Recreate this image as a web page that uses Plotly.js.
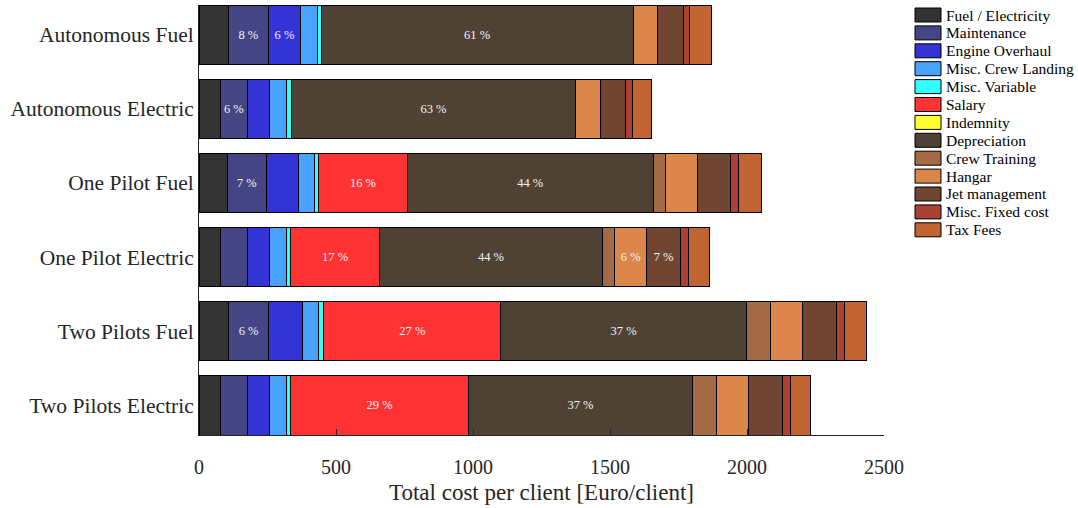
<!DOCTYPE html>
<html>
<head>
<meta charset="utf-8">
<script src="https://cdn.plot.ly/plotly-3.0.1.min.js"></script>
<style>html,body{margin:0;padding:0;background:#fff;}#chart{width:1078px;height:508px;}</style>
</head>
<body>
<div id="chart"></div>
<script>
const categories = ["Autonomous Fuel", "Autonomous Electric", "One Pilot Fuel", "One Pilot Electric", "Two Pilots Fuel", "Two Pilots Electric"];
const costNames = ["Fuel / Electricity", "Maintenance", "Engine Overhaul", "Misc. Crew Landing", "Misc. Variable", "Salary", "Indemnity", "Depreciation", "Crew Training", "Hangar", "Jet management", "Misc. Fixed cost", "Tax Fees"];
const costColors = ["#333333", "#454585", "#3333d6", "#47a3ff", "#33ffff", "#ff3333", "#ffff33", "#4f4235", "#a36b45", "#db874b", "#704633", "#ab4132", "#c26332"];

// values per category (order of categories)
const fuelElectricity = [107, 77, 103, 77, 107, 77];
const maintenance     = [146, 100, 143, 99, 148, 99];
const engineOverhaul  = [118, 81, 116, 81, 122, 82];
const miscCrewLanding = [60, 63, 59, 63, 60, 62];
const miscVariable    = [15, 15, 16, 15, 18, 15];
const salary          = [0, 0, 323, 323, 647, 648];
const indemnity       = [0, 0, 0, 0, 0, 0];
const depreciation    = [1138, 1039, 898, 815, 895, 818];
const crewTraining    = [0, 0, 43, 44, 89, 89];
const hangar          = [90, 90, 117, 117, 118, 117];
const jetManagement   = [93, 92, 121, 123, 121, 121];
const miscFixedCost   = [23, 24, 31, 30, 30, 31];
const taxFees         = [79, 70, 82, 75, 82, 74];

const tickVals = [0, 500, 1000, 1500, 2000, 2500];

const series = [fuelElectricity, maintenance, engineOverhaul, miscCrewLanding, miscVariable, salary, indemnity, depreciation, crewTraining, hangar, jetManagement, miscFixedCost, taxFees];

const totals = categories.map((c, i) => series.reduce((s, arr) => s + arr[i], 0));

const serif = "Liberation Serif, DejaVu Serif, serif";

const traces = series.map((vals, k) => ({
  type: "bar",
  orientation: "h",
  name: costNames[k],
  y: categories,
  x: vals,
  marker: {color: costColors[k], line: {color: "#000000", width: 1}},
  text: vals.map((v, i) => (v / totals[i] >= 0.06 ? Math.round(100 * v / totals[i]) + " %" : "")),
  textposition: "inside",
  insidetextanchor: "middle",
  textangle: 0,
  constraintext: "none",
  insidetextfont: {family: serif, size: 12.5, color: "#f2f2f2"},
  hoverinfo: "x+name",
  showlegend: false
}));

// custom legend (wide swatches like the reference), in paper coordinates
const M = {l: 199, r: 194, t: 5, b: 73};
const plotW = 1078 - M.l - M.r, plotH = 508 - M.t - M.b;
const px2x = p => (p - M.l) / plotW;
const py2y = p => (508 - M.b - p) / plotH;
const legTop = 15, legStep = 17.9;
const shapes = [], annotations = [];
costNames.forEach((nm, k) => {
  const cy = legTop + k * legStep;
  shapes.push({
    type: "rect", xref: "paper", yref: "paper",
    x0: px2x(915), x1: px2x(941), y0: py2y(cy + 7), y1: py2y(cy - 7),
    fillcolor: costColors[k], line: {color: "#000000", width: 1}
  });
  annotations.push({
    xref: "paper", yref: "paper", x: px2x(944), y: py2y(cy),
    xanchor: "left", yanchor: "middle", showarrow: false,
    text: nm, font: {family: serif, size: 15.5, color: "#000000"}
  });
});

const layout = {
  width: 1078,
  height: 508,
  margin: M,
  barmode: "stack",
  bargap: 0.2,
  paper_bgcolor: "#ffffff",
  plot_bgcolor: "#ffffff",
  showlegend: false,
  shapes: shapes,
  annotations: annotations,
  xaxis: {
    range: [0, 2500],
    tickvals: tickVals,
    ticktext: tickVals.map(String),
    ticks: "inside",
    ticklen: 6,
    tickcolor: "#262626",
    showline: true,
    linecolor: "#262626",
    linewidth: 1,
    showgrid: false,
    zeroline: false,
    ticklabelstandoff: 14,
    tickfont: {family: serif, size: 20, color: "#262626"},
    title: {text: "Total cost per client [Euro/client]", font: {family: serif, size: 23, color: "#262626"}, standoff: 6}
  },
  yaxis: {
    range: [5.4, -0.4],
    type: "category",
    showline: true,
    linecolor: "#262626",
    linewidth: 1,
    showgrid: false,
    zeroline: false,
    ticks: "",
    tickfont: {family: serif, size: 21.5, color: "#262626"}
  }
};

Plotly.newPlot("chart", traces, layout, {displayModeBar: false, staticPlot: true});
</script>
</body>
</html>
